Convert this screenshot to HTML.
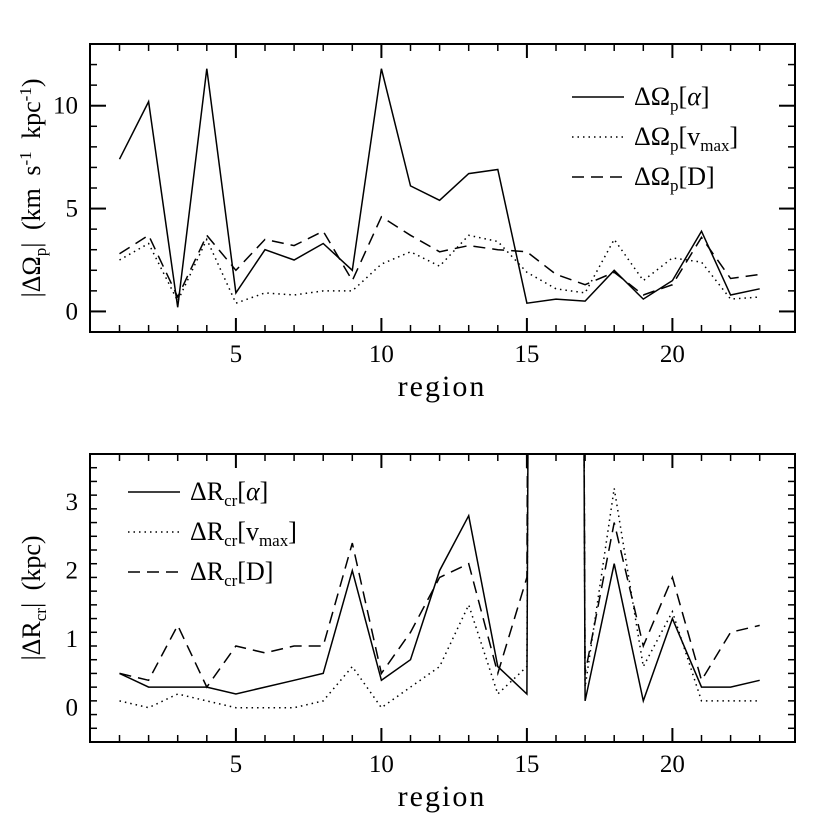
<!DOCTYPE html>
<html><head><meta charset="utf-8"><style>
body{margin:0;background:#fff}
svg text{font-family:"Liberation Serif",serif;fill:#000}
</style></head><body>
<svg id="c" width="830" height="830" xmlns="http://www.w3.org/2000/svg"></svg>
<script>
const regions=[1,2,3,4,5,6,7,8,9,10,11,12,13,14,15,16,17,18,19,20,21,22,23];
const topAlpha=[7.4,10.2,0.2,11.8,0.9,3.0,2.5,3.3,2.0,11.8,6.1,5.4,6.7,6.9,0.4,0.6,0.5,2.0,0.6,1.5,3.9,0.8,1.1];
const topVmax=[2.5,3.3,0.5,3.5,0.4,0.9,0.8,1.0,1.0,2.3,2.9,2.2,3.7,3.4,1.9,1.1,0.9,3.5,1.5,2.6,2.4,0.6,0.7];
const topD=[2.8,3.7,0.7,3.7,2.0,3.5,3.2,3.9,1.5,4.6,3.7,2.9,3.2,3.0,2.9,1.8,1.3,1.9,0.8,1.3,3.6,1.6,1.8];
const botAlpha=[0.5,0.3,0.3,0.3,0.2,0.3,0.4,0.5,2.0,0.4,0.7,2.0,2.8,0.6,0.2,100,0.1,2.1,0.1,1.3,0.3,0.3,0.4];
const botVmax=[0.1,0.0,0.2,0.1,0.0,0.0,0.0,0.1,0.6,0.0,0.3,0.6,1.5,0.2,0.6,100,0.3,3.2,0.6,1.4,0.1,0.1,0.1];
const botD=[0.5,0.4,1.2,0.3,0.9,0.8,0.9,0.9,2.4,0.5,1.1,1.9,2.1,0.5,1.9,100,0.5,2.7,0.9,1.9,0.4,1.1,1.2];
const xTicks=[5,10,15,20];
const topYTicks=[0,5,10];
const botYTicks=[0,1,2,3];

const svg=document.getElementById('c');
const NS='http://www.w3.org/2000/svg';
function mk(t,a,p){const e=document.createElementNS(NS,t);for(const k in a)e.setAttribute(k,a[k]);(p||svg).appendChild(e);return e;}
const L=90,R=795;
const xs=v=>119.5+(v-1)*29.1;

function panel(id,top,bot,ymin,ymax,minorStep,yTicks,series,ylabelHTML){
  const g=mk('g',{});
  
  
  const ys=v=>bot-(v-ymin)/(ymax-ymin)*(bot-top);
  const cp=mk('clipPath',{id:id+'clip'},g);
  mk('rect',{x:L,y:top,width:R-L,height:bot-top},cp);
  for(let i=1;i<=23;i++){
    const big=i%5===0, len=big?14:7;
    mk('line',{x1:xs(i),x2:xs(i),y1:top,y2:top+len,stroke:'#000','stroke-width':big?2:1.5},g);
    mk('line',{x1:xs(i),x2:xs(i),y1:bot,y2:bot-len,stroke:'#000','stroke-width':big?2:1.5},g);
  }
  for(const t of xTicks){
    const tx=mk('text',{x:xs(t),y:bot+30,'font-size':25,'text-anchor':'middle'},g);
    tx.textContent=t;
    
    
  }
  const n=Math.round((ymax-ymin)/minorStep);
  for(let i=0;i<=n;i++){
    const v=ymin+i*minorStep; const y=ys(v);
    const big=yTicks.some(t=>Math.abs(t-v)<1e-6), len=big?16:7;
    mk('line',{x1:L,x2:L+len,y1:y,y2:y,stroke:'#000','stroke-width':big?2:1.5},g);
    mk('line',{x1:R,x2:R-len,y1:y,y2:y,stroke:'#000','stroke-width':big?2:1.5},g);
  }
  for(const t of yTicks){
    const tx=mk('text',{x:L-12,y:ys(t)+8,'font-size':25,'text-anchor':'end'},g);
    tx.textContent=t;
    
    
  }
  mk('rect',{x:L,y:top,width:R-L,height:bot-top,fill:'none',stroke:'#000','stroke-width':2},g);
  const cg=mk('g',{'clip-path':'url(#'+id+'clip)'},g);
  for(const s of series){
    const d=s.data.map((v,i)=>(i?'L':'M')+xs(regions[i]).toFixed(1)+' '+ys(v).toFixed(1)).join(' ');
    const p=mk('path',{d:d,fill:'none',stroke:'#000','stroke-width':1.5,'stroke-dasharray':s.dash},cg);
    
    
  }
  const xl=mk('text',{x:442,y:bot+64,'font-size':30,'text-anchor':'middle','letter-spacing':'2'},g);
  xl.textContent='region';
  
  
  const yl=mk('text',{x:0,y:0,'font-size':26,'text-anchor':'middle','word-spacing':'6',transform:'translate(40,'+((top+bot)/2)+') rotate(-90)'},g);
  yl.innerHTML=ylabelHTML;
  
  
  return g;
}
panel('top',44,332,-1,13,1,topYTicks,[
 {data:topAlpha,dash:'',name:'line-alpha'},
 {data:topVmax,dash:'1.5 4',name:'line-vmax'},
 {data:topD,dash:'12 7',name:'line-d'}],
 '|ΔΩ<tspan font-size="17" dy="6">p</tspan><tspan dy="-6">|  (km s</tspan><tspan font-size="17" dy="-9">-1</tspan><tspan dy="9"> kpc</tspan><tspan font-size="17" dy="-9">-1</tspan><tspan dy="9">)</tspan>');
panel('bot',454,742,-0.5,3.7,0.2,botYTicks,[
 {data:botAlpha,dash:'',name:'line-alpha'},
 {data:botVmax,dash:'1.5 4',name:'line-vmax'},
 {data:botD,dash:'12 7',name:'line-d'}],
 '|ΔR<tspan font-size="17" dy="6">cr</tspan><tspan dy="-6">|  (kpc)</tspan>');

function legend(x,y,dash,html,name){
  const g=mk('g',{});
  
  
  mk('line',{x1:x,x2:x+52,y1:y,y2:y,stroke:'#000','stroke-width':1.5,'stroke-dasharray':dash},g);
  const t=mk('text',{x:x+62,y:y+8,'font-size':26},g);
  t.innerHTML=html;
}
legend(572,97,'','ΔΩ<tspan font-size="17" dy="6">p</tspan><tspan dy="-6">[</tspan><tspan font-style="italic">α</tspan>]','legend-top-alpha');
legend(572,137,'1.5 4','ΔΩ<tspan font-size="17" dy="6">p</tspan><tspan dy="-6">[v</tspan><tspan font-size="17" dy="6">max</tspan><tspan dy="-6">]</tspan>','legend-top-vmax');
legend(572,177,'12 7','ΔΩ<tspan font-size="17" dy="6">p</tspan><tspan dy="-6">[D]</tspan>','legend-top-d');
legend(128,492,'','ΔR<tspan font-size="17" dy="6">cr</tspan><tspan dy="-6">[</tspan><tspan font-style="italic">α</tspan>]','legend-bot-alpha');
legend(128,532,'1.5 4','ΔR<tspan font-size="17" dy="6">cr</tspan><tspan dy="-6">[v</tspan><tspan font-size="17" dy="6">max</tspan><tspan dy="-6">]</tspan>','legend-bot-vmax');
legend(128,572,'12 7','ΔR<tspan font-size="17" dy="6">cr</tspan><tspan dy="-6">[D]</tspan>','legend-bot-d');
</script>
</body></html>
